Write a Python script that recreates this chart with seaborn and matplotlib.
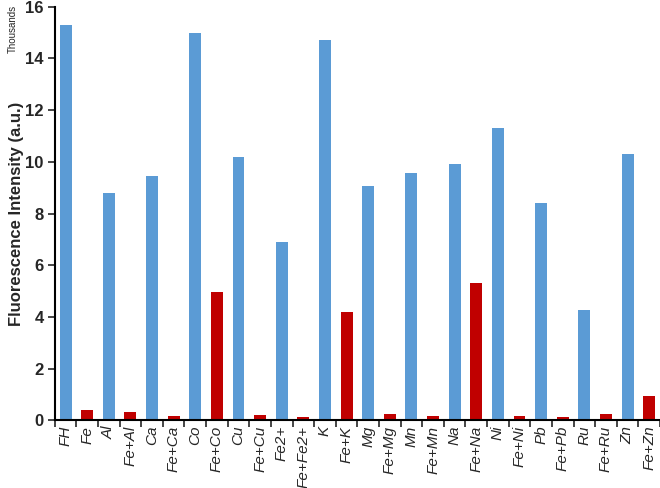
import matplotlib
matplotlib.use("Agg")
import matplotlib.pyplot as plt
import seaborn as sns
import numpy as np

# categories and intensities (thousands)
samples = ["FH", "Fe", "Al", "Fe+Al", "Ca", "Fe+Ca", "Co", "Fe+Co", "Cu", "Fe+Cu",
           "Fe2+", "Fe+Fe2+", "K", "Fe+K", "Mg", "Fe+Mg", "Mn", "Fe+Mn", "Na", "Fe+Na",
           "Ni", "Fe+Ni", "Pb", "Fe+Pb", "Ru", "Fe+Ru", "Zn", "Fe+Zn"]
intensity = [15.3, 0.4, 8.8, 0.3, 9.45, 0.15, 15.0, 4.95, 10.2, 0.2,
             6.9, 0.12, 14.7, 4.2, 9.05, 0.25, 9.55, 0.18, 9.9, 5.3,
             11.3, 0.15, 8.4, 0.12, 4.25, 0.25, 10.3, 0.92]

blue = "#5B9BD5"
red = "#C00000"
colors = [red if (s.startswith("Fe") and s != "Fe2+") else blue for s in samples]
colors[0] = blue

sns.set_style("white")
plt.rcParams["font.family"] = ["Liberation Sans", "DejaVu Sans"]

fig = plt.figure(figsize=(6.6, 4.88), dpi=100)
ax = fig.add_axes([0.083, 0.139, 0.917, 0.847])

sns.barplot(x=samples, y=intensity, hue=samples, palette=colors, legend=False,
            width=0.55, saturation=1, ax=ax, edgecolor="none")

ax.set_ylim(0, 16)
ax.set_xlim(-0.5, len(samples) - 0.5)
ax.set_yticks(np.arange(0, 17, 2))
ax.set_yticklabels([str(v) for v in range(0, 17, 2)], fontsize=12, fontweight="bold")
ax.set_ylabel("Fluorescence Intensity (a.u.)", fontsize=12, fontweight="bold", labelpad=1)
ax.set_xlabel("")

# excel-like ticks between categories
ax.set_xticks(np.arange(len(samples)))
ax.set_xticklabels(samples, rotation=90, fontsize=11, fontstyle="italic")
ax.tick_params(axis="x", which="major", length=0, pad=4)
ax.set_xticks(np.arange(-0.5, len(samples), 1), minor=True)
ax.tick_params(axis="x", which="minor", length=5, width=1.2, direction="out", bottom=True)
ax.tick_params(axis="y", length=5, width=1.2, direction="out", left=True, pad=3)

for side in ["top", "right"]:
    ax.spines[side].set_visible(False)
for side in ["left", "bottom"]:
    ax.spines[side].set_color("black")
    ax.spines[side].set_linewidth(1.5)

fig.text(0.012, 0.99, "Thousands", rotation=90, fontsize=7, va="top", ha="left")

fig.savefig("out.png", dpi=100)
